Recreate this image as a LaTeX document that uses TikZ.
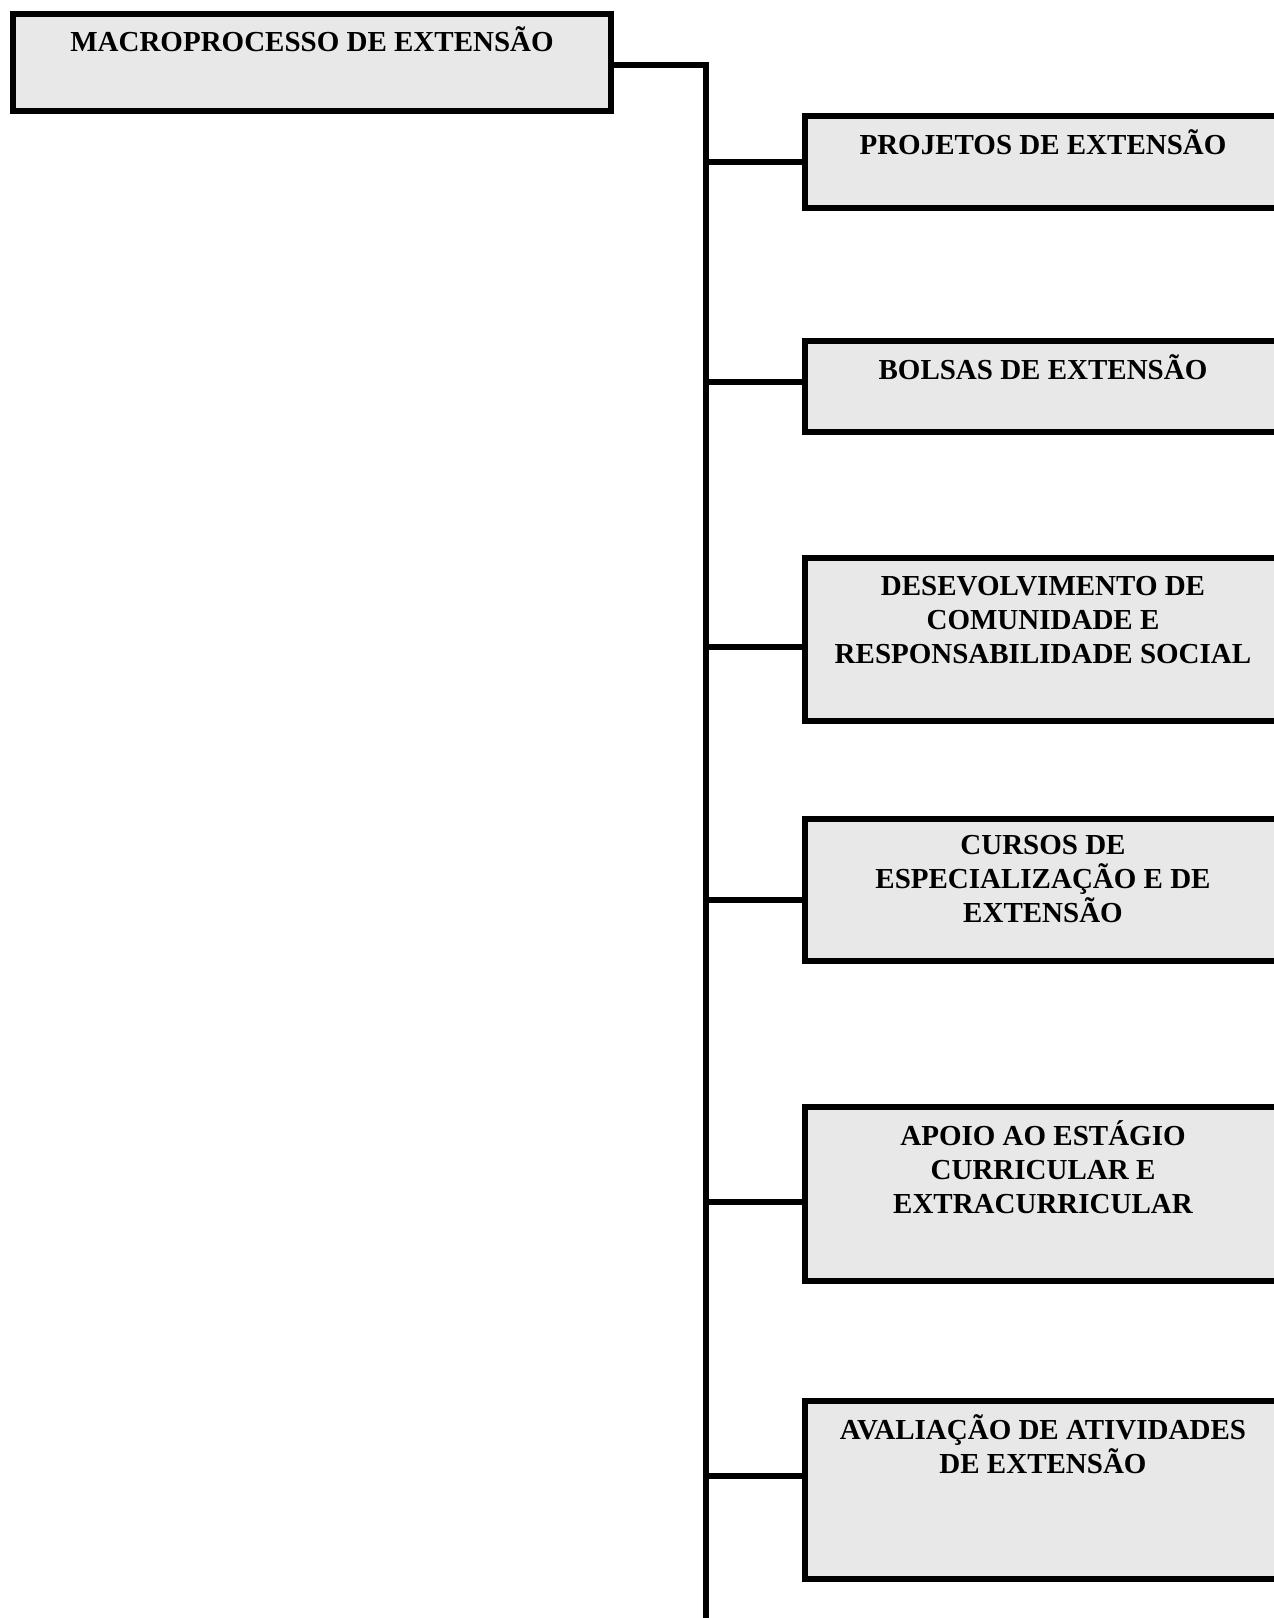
\documentclass[tikz,border=0pt]{standalone}
\usepackage{fontspec}
\setmainfont{Liberation Serif}
\usetikzlibrary{positioning}
\definecolor{boxgray}{HTML}{E8E8E8}
\tikzset{
  procbox/.style={draw,line width=3pt,fill=boxgray,rectangle,inner sep=0pt},
  proctxt/.style={inner sep=0pt,align=center,font=\fontsize{14.5}{17}\selectfont\bfseries},
  wire/.style={line width=3pt}
}

\begin{document}
\begin{tikzpicture}[x=0.5pt,y=-0.5pt]
\clip (0,0) rectangle (1274,1618);
% main box
\node[procbox,anchor=north west,minimum width=299pt,minimum height=48.5pt] (macro) at (10,11) {};
\node[proctxt,below=7.5pt of macro.north] (macrotxt) {MACROPROCESSO DE EXTENSÃO};
% sub boxes
\node[procbox,anchor=north west,minimum width=238pt,minimum height=46pt] (proj) at (802,113) {};
\node[procbox,anchor=north west,minimum width=238pt,minimum height=45.5pt] (bols) at (802,338) {};
\node[procbox,anchor=north west,minimum width=238pt,minimum height=81.5pt] (desen) at (802,555) {};
\node[procbox,anchor=north west,minimum width=238pt,minimum height=71pt] (curs) at (802,816) {};
\node[procbox,anchor=north west,minimum width=238pt,minimum height=87pt] (apoio) at (802,1104) {};
\node[procbox,anchor=north west,minimum width=238pt,minimum height=89pt] (aval) at (802,1398) {};
\node[proctxt,below=8pt of proj.north] (projtxt) {PROJETOS DE EXTENSÃO};
\node[proctxt,below=8pt of bols.north] (bolstxt) {BOLSAS DE EXTENSÃO};
\node[proctxt,below=10.5pt of desen.north] (desentxt) {DESEVOLVIMENTO DE\\COMUNIDADE E\\RESPONSABILIDADE SOCIAL};
\node[proctxt,below=9.5pt of curs.north] (curstxt) {CURSOS DE\\ESPECIALIZAÇÃO E DE\\EXTENSÃO};
\node[proctxt,below=8pt of apoio.north] (apoiotxt) {APOIO AO ESTÁGIO\\CURRICULAR E\\EXTRACURRICULAR};
\node[proctxt,below=8pt of aval.north] (avaltxt) {AVALIAÇÃO DE ATIVIDADES\\DE EXTENSÃO};
% trunk
\coordinate (trunkend) at (706,1630);
\draw[wire] ([yshift=-1pt]macro.east) -| (trunkend);
\foreach \n/\dy in {proj/0,bols/2.5,desen/-3.75,curs/-5,apoio/-3.75,aval/7.25}
  \draw[wire] ([yshift=\dy pt]\n.west) -- ([yshift=\dy pt]\n.west -| trunkend);
\end{tikzpicture}
\end{document}
